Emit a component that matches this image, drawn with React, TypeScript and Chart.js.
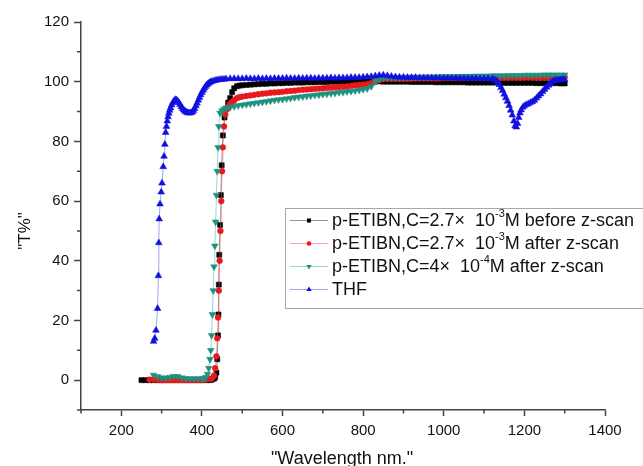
import React, { useEffect, useRef } from "react";
import { Chart, registerables } from "chart.js";

Chart.register(...registerables);

// ---- data (wavelength nm, transmittance %) ----
const TAIL_WL = [
  500, 510, 520, 530, 540, 550, 560, 570, 580, 590,
  600, 610, 620, 630, 640, 650, 660, 670, 680, 690,
  700, 710, 720, 730, 740, 750, 760, 770, 780, 790,
  800, 810, 820, 830, 840, 850, 860, 870, 880, 890,
  900, 910, 920, 930, 940, 950, 960, 970, 980, 990,
  1000, 1010, 1020, 1030, 1040, 1050, 1060, 1070, 1080, 1090,
  1100, 1110, 1120, 1130, 1140, 1150, 1160, 1170, 1180, 1190,
  1200, 1210, 1220, 1230, 1240, 1250, 1260, 1270, 1280, 1290, 1300,
];

const BLACK_WL_LOW = [
  250, 260, 270, 280, 290, 300, 310, 320, 330, 340, 350, 360, 370, 380, 390, 400, 410, 420,
  425, 430, 433, 436, 438, 440, 441, 442, 443, 445, 447, 449, 452, 456, 460, 465, 470, 475, 480, 487, 493,
];
const BLACK_T_LOW = [
  0, 0, 0, 0, 0, 0, 0, 0, 0, 0, 0, 0, 0, 0, 0, 0, 0, 0,
  0.2, 0.5, 1, 2.5, 7, 15, 22, 32, 42, 52, 62, 72, 82, 88, 91, 93, 94.5, 96.5, 97.8, 98.5, 98.7,
];
const BLACK_T_TAIL = [
  98.8, 98.9, 99.0, 99.1, 99.2, 99.3, 99.3, 99.4, 99.4, 99.5,
  99.5, 99.6, 99.6, 99.7, 99.7, 99.7, 99.8, 99.8, 99.8, 99.9,
  99.9, 99.9, 100.0, 100.0, 100.0, 100.1, 100.1, 100.1, 100.1, 100.1,
  100.1, 100.1, 100.1, 100.1, 100.1, 100.0, 100.0, 100.0, 100.0, 100.0,
  100.0, 100.0, 99.9, 99.9, 99.9, 99.9, 99.9, 99.9, 99.8, 99.8,
  99.8, 99.8, 99.8, 99.8, 99.8, 99.8, 99.7, 99.7, 99.7, 99.7,
  99.7, 99.7, 99.7, 99.7, 99.6, 99.6, 99.6, 99.6, 99.6, 99.6,
  99.6, 99.6, 99.6, 99.5, 99.5, 99.5, 99.5, 99.5, 99.5, 99.4, 99.4,
];

const RED_WL_LOW = [
  270, 280, 290, 300, 310, 320, 330, 340, 350, 360, 370, 380, 390, 400, 410, 420,
  425, 430, 433, 436, 438, 440, 442, 444, 446, 448, 450, 452, 455, 458, 462, 466, 470, 475, 480, 487, 493,
];
const RED_T_LOW = [
  0.2, 0.2, 0.1, 0, 0, 0, 0, 0, 0, 0, 0, 0, 0, 0, 0.2, 0.4,
  0.6, 1.5, 4, 8, 14, 21, 30, 40, 50, 60, 70, 78, 85, 89, 90.8, 91.8, 92.6, 93.2, 93.8, 94.5, 94.8,
];
const RED_T_TAIL = [
  95.0, 95.2, 95.4, 95.6, 95.8, 96.0, 96.1, 96.3, 96.4, 96.5,
  96.6, 96.8, 96.9, 97.0, 97.2, 97.3, 97.4, 97.5, 97.6, 97.7,
  97.8, 97.9, 98.0, 98.1, 98.2, 98.3, 98.4, 98.6, 98.8, 98.9,
  99.0, 99.2, 99.5, 100.0, 100.6, 100.9, 101.0, 101.0, 101.0, 101.0,
  101.0, 101.0, 101.0, 101.1, 101.1, 101.1, 101.1, 101.1, 101.1, 101.1,
  101.2, 101.2, 101.2, 101.2, 101.2, 101.2, 101.2, 101.2, 101.2, 101.2,
  101.2, 101.2, 101.3, 101.3, 101.3, 101.3, 101.3, 101.3, 101.3, 101.3,
  101.4, 101.4, 101.4, 101.4, 101.4, 101.4, 101.5, 101.5, 101.5, 101.5, 101.5,
];

const TEAL_WL_LOW = [
  280, 290, 300, 310, 320, 330, 340, 350, 360, 370, 380, 390, 400, 405, 410, 414, 417,
  420, 422, 424, 426, 428, 430, 432, 434, 436, 438, 440, 442, 445, 450, 455, 460, 470, 480, 490,
];
const TEAL_T_LOW = [
  1.7, 1.2, 0.8, 0.7, 1.0, 1.3, 1.2, 0.8, 0.6, 0.5, 0.5, 0.5, 0.5, 0.6, 1, 2, 4,
  7, 10, 15, 22, 30, 38, 45, 53, 62, 70, 78, 85, 89.5, 90.3, 90.8, 91.1, 91.4, 91.7, 92.0,
];
const TEAL_T_TAIL = [
  92.2, 92.4, 92.6, 92.8, 93.0, 93.2, 93.4, 93.6, 93.8, 94.0,
  94.1, 94.3, 94.5, 94.7, 94.9, 95.0, 95.2, 95.3, 95.5, 95.6,
  95.8, 95.9, 96.1, 96.2, 96.4, 96.5, 96.7, 96.8, 97.0, 97.2,
  97.4, 97.7, 98.4, 100.1, 100.8, 101.2, 101.3, 101.3, 101.4, 101.4,
  101.4, 101.5, 101.5, 101.5, 101.5, 101.6, 101.6, 101.6, 101.6, 101.7,
  101.7, 101.7, 101.7, 101.7, 101.8, 101.8, 101.8, 101.8, 101.9, 101.9,
  101.9, 101.9, 102.0, 102.0, 102.0, 102.0, 102.1, 102.1, 102.1, 102.1,
  102.2, 102.2, 102.2, 102.2, 102.2, 102.3, 102.3, 102.3, 102.3, 102.3, 102.3,
];

const BLUE_WL_LOW = [
  280, 283, 286, 290, 292, 293, 294, 296, 299, 301, 304, 306, 308,
  310, 312, 314, 316, 318, 320, 322, 325, 328, 331, 334, 337, 340, 343, 346, 349,
  352, 355, 358, 361, 364, 367, 370, 373, 376, 379, 382, 385, 388, 391, 394, 397,
  400, 403, 406, 409, 412, 415, 418, 421, 425, 430, 435, 440, 445, 450, 455, 460, 470, 480, 490,
];
const BLUE_T_LOW = [
  13, 14, 16.7, 24, 35, 46, 54, 59, 63, 66, 71.5, 75, 79,
  83, 85, 86.8, 88.2, 89.4, 90.4, 91.2, 92.2, 93, 93.6, 94, 93.9, 93.5, 92.9, 92.3, 91.6,
  91, 90.5, 90.1, 89.8, 89.6, 89.5, 89.5, 89.6, 89.8, 90.3, 91, 91.9, 92.8, 93.8, 94.7, 95.6,
  96.4, 97.1, 97.8, 98.4, 98.9, 99.3, 99.6, 99.9, 100.1, 100.3, 100.5, 100.6, 100.7, 100.8, 100.8, 100.9, 101, 101, 101,
];
// 500 .. 1120 (step 10)
const BLUE_T_MID = [
  101.0, 101.1, 101.0, 101.0, 101.1, 101.0, 101.1, 101.0, 101.1, 101.1,
  101.1, 101.2, 101.1, 101.1, 101.2, 101.1, 101.2, 101.2, 101.1, 101.2,
  101.2, 101.2, 101.3, 101.2, 101.3, 101.3, 101.3, 101.4, 101.4, 101.4,
  101.5, 101.6, 101.7, 101.9, 102.1, 102.2, 102.0, 101.8, 101.6, 101.5,
  101.5, 101.4, 101.4, 101.4, 101.3, 101.3, 101.3, 101.3, 101.3, 101.2,
  101.2, 101.2, 101.2, 101.2, 101.1, 101.1, 101.1, 101.1, 101.1, 101.0,
  101.0, 101.0, 100.9,
];
const BLUE_WL_DIP = [
  1125, 1130, 1134, 1138, 1142, 1146, 1150, 1154, 1158, 1162, 1166, 1170, 1174, 1177,
  1180, 1183, 1186, 1189, 1192, 1196, 1200, 1205, 1210, 1215, 1220, 1225, 1230, 1235,
  1240, 1245, 1250, 1255, 1260, 1265, 1270, 1275, 1280, 1285, 1290, 1295, 1300,
];
const BLUE_T_DIP = [
  100.8, 100.4, 99.8, 99.0, 98.0, 97.0, 95.8, 94.6, 93.4, 92.0, 90.4, 88.8, 86.8, 85.2,
  84.8, 86.0, 88.0, 89.5, 90.5, 91.4, 91.9, 92.3, 92.6, 93.0, 93.3, 93.8, 94.5, 95.2,
  95.9, 96.7, 97.4, 98.1, 98.8, 99.5, 100.1, 100.4, 100.5, 100.6, 100.6, 100.7, 100.7,
];

const X_MAJOR = [200, 400, 600, 800, 1000, 1200, 1400];
const X_MINOR = [100, 300, 500, 700, 900, 1100, 1300];
const Y_MAJOR = [0, 20, 40, 60, 80, 100, 120];
const Y_MINOR = [-10, 10, 30, 50, 70, 90, 110];

const X_TITLE = '"Wavelength nm."';
const Y_TITLE = '"T%"';

// legend text pieces: [text, isSuperscript]
const LEGEND_ROWS: [string, boolean][][] = [
  [["p-ETIBN,C=2.7×  10", false], ["-3", true], ["M before z-scan", false]],
  [["p-ETIBN,C=2.7×  10", false], ["-3", true], ["M after z-scan", false]],
  [["p-ETIBN,C=4×  10", false], ["-4", true], ["M after z-scan", false]],
  [["THF", false]],
];

const BLUE_WL_MID = TAIL_WL.filter((w) => w <= 1120);

const SERIES = [
  { wl: [...BLACK_WL_LOW, ...TAIL_WL], t: [...BLACK_T_LOW, ...BLACK_T_TAIL], color: "#000000", line: "rgba(60,60,60,0.55)", style: "rect", rot: 0, r: 3.6 },
  { wl: [...RED_WL_LOW, ...TAIL_WL], t: [...RED_T_LOW, ...RED_T_TAIL], color: "#e8191c", line: "rgba(240,90,90,0.55)", style: "circle", rot: 0, r: 2.9 },
  { wl: [...TEAL_WL_LOW, ...TAIL_WL], t: [...TEAL_T_LOW, ...TEAL_T_TAIL], color: "#20907f", line: "rgba(70,180,170,0.55)", style: "triangle", rot: 180, r: 3.9 },
  { wl: [...BLUE_WL_LOW, ...BLUE_WL_MID, ...BLUE_WL_DIP], t: [...BLUE_T_LOW, ...BLUE_T_MID, ...BLUE_T_DIP], color: "#1010e0", line: "rgba(90,90,220,0.55)", style: "triangle", rot: 0, r: 3.9 },
];

const FONT = "'Liberation Sans', Arial, sans-serif";
const AXIS_COLOR = "#444";

function drawMarker(ctx: CanvasRenderingContext2D, style: string, rot: number, x: number, y: number, r: number, color: string) {
  ctx.fillStyle = color;
  ctx.beginPath();
  if (style === "rect") {
    const s = r * Math.SQRT1_2;
    ctx.rect(x - s, y - s, 2 * s, 2 * s);
  } else if (style === "circle") {
    ctx.arc(x, y, r, 0, Math.PI * 2);
  } else {
    let a = (rot * Math.PI) / 180;
    ctx.moveTo(x + Math.sin(a) * r, y - Math.cos(a) * r);
    a += (2 * Math.PI) / 3;
    ctx.lineTo(x + Math.sin(a) * r, y - Math.cos(a) * r);
    a += (2 * Math.PI) / 3;
    ctx.lineTo(x + Math.sin(a) * r, y - Math.cos(a) * r);
    ctx.closePath();
  }
  ctx.fill();
}

const decorPlugin = {
  id: "decor",
  afterDraw(chart: any) {
    const ctx: CanvasRenderingContext2D = chart.ctx;
    const xs = chart.scales.x;
    const ys = chart.scales.y;
    const area = chart.chartArea;
    ctx.save();
    // minor ticks
    ctx.strokeStyle = AXIS_COLOR;
    ctx.lineWidth = 1.5;
    ctx.beginPath();
    for (const v of Y_MINOR) {
      const py = ys.getPixelForValue(v);
      ctx.moveTo(area.left - 4, py);
      ctx.lineTo(area.left, py);
    }
    for (const v of X_MINOR) {
      const px = xs.getPixelForValue(v);
      ctx.moveTo(px, area.bottom);
      ctx.lineTo(px, area.bottom + 3.5);
    }
    ctx.stroke();

    // axis titles
    ctx.fillStyle = "#111";
    ctx.font = `18px ${FONT}`;
    ctx.textAlign = "center";
    ctx.textBaseline = "middle";
    ctx.fillText(X_TITLE, (area.left + area.right) / 2 - 1, 459);
    ctx.save();
    ctx.translate(25, 231);
    ctx.rotate(-Math.PI / 2);
    ctx.font = `17px ${FONT}`;
    ctx.fillText(Y_TITLE, 0, 0);
    ctx.restore();

    // legend box
    const bx = 285.5, by = 208.5, bw = 420, bh = 100;
    ctx.fillStyle = "#fff";
    ctx.fillRect(bx, by, bw, bh);
    ctx.strokeStyle = "#a8a8a8";
    ctx.lineWidth = 1;
    ctx.strokeRect(bx, by, bw, bh);
    const rowY = [220, 243, 266, 289];
    ctx.textAlign = "left";
    ctx.textBaseline = "middle";
    SERIES.forEach((s, i) => {
      const y = rowY[i];
      ctx.strokeStyle = s.line;
      ctx.lineWidth = 1;
      ctx.beginPath();
      ctx.moveTo(290, y + 0.5);
      ctx.lineTo(328, y + 0.5);
      ctx.stroke();
      drawMarker(ctx, s.style, s.rot, 309, y + 0.5, s.r * 0.8, s.color);
      let x = 332;
      ctx.fillStyle = "#111";
      for (const [txt, sup] of LEGEND_ROWS[i]) {
        if (sup) {
          ctx.font = `11px ${FONT}`;
          ctx.fillText(txt, x, y - 6);
        } else {
          ctx.font = `18px ${FONT}`;
          ctx.fillText(txt, x, y + 1);
        }
        x += ctx.measureText(txt).width;
      }
    });
    ctx.restore();
  },
};

export default function App() {
  const ref = useRef<HTMLCanvasElement | null>(null);

  useEffect(() => {
    if (!ref.current) return;
    const datasets = SERIES.map((s, i) => ({
      label: LEGEND_ROWS[i].map((p) => p[0]).join(""),
      data: s.wl.map((x, k) => ({ x, y: s.t[k] })),
      borderColor: s.line,
      borderWidth: 1,
      backgroundColor: s.color,
      pointBackgroundColor: s.color,
      pointBorderColor: s.color,
      pointBorderWidth: 0.5,
      pointStyle: s.style,
      rotation: s.rot,
      pointRadius: s.r,
      pointHoverRadius: s.r,
      tension: 0,
      fill: false,
      order: 3 - i,
    }));

    const chart = new Chart(ref.current, {
      type: "line",
      data: { datasets },
      options: {
        animation: false,
        responsive: true,
        maintainAspectRatio: false,
        layout: { padding: { left: 0, right: 38, top: 22, bottom: 0 } },
        plugins: { legend: { display: false }, tooltip: { enabled: false } },
        scales: {
          x: {
            type: "linear",
            min: 100,
            max: 1400,
            afterFit: (sc: any) => { sc.height = 56; },
            afterBuildTicks: (sc: any) => { sc.ticks = X_MAJOR.map((v) => ({ value: v })); },
            ticks: { font: { family: FONT, size: 15 }, color: "#111", padding: 6, maxRotation: 0, autoSkip: false, callback: (v: any) => String(v) },
            grid: { display: true, drawOnChartArea: false, tickLength: 6, tickColor: AXIS_COLOR, tickWidth: 1.5 },
            border: { display: true, color: AXIS_COLOR, width: 1.5 },
          },
          y: {
            type: "linear",
            min: -10,
            max: 120,
            afterFit: (sc: any) => { sc.width = 81; },
            afterBuildTicks: (sc: any) => { sc.ticks = Y_MAJOR.map((v) => ({ value: v })); },
            ticks: { font: { family: FONT, size: 15 }, color: "#111", padding: 5, autoSkip: false, callback: (v: any) => String(v) },
            grid: { display: true, drawOnChartArea: false, tickLength: 7, tickColor: AXIS_COLOR, tickWidth: 1.5 },
            border: { display: true, color: AXIS_COLOR, width: 1.5 },
          },
        },
      },
      plugins: [decorPlugin],
    });
    return () => chart.destroy();
  }, []);

  return (
    <div style={{ position: "fixed", left: 0, top: 0, width: 643, height: 466, background: "#fff" }}>
      <canvas ref={ref} />
    </div>
  );
}
